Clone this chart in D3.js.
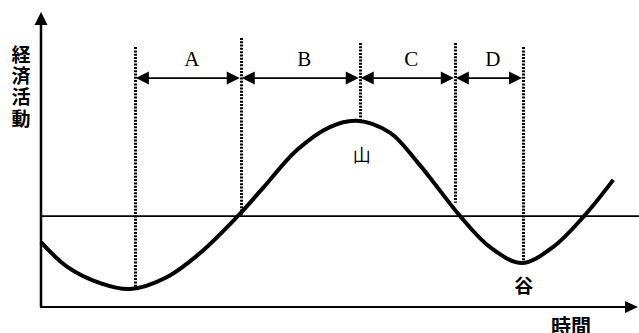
<!DOCTYPE html>
<html lang="ja">

<head>
  <meta charset="UTF-8">
  <script src="https://d3js.org/d3.v7.min.js"></script>
  <style>
    html, body {
      margin: 0px;
      padding: 0px;
      background-color: white;
    }

    svg {
      display: block;
    }

    .jp {
      font-family: "Noto Sans CJK JP", sans-serif;
    }

    .period {
      font-family: "Liberation Serif", "DejaVu Serif", serif;
      font-size: 21px;
    }
  </style>
</head>

<body>
  <svg id="chart" width="639" height="333"></svg>

  <script>
    // business cycle curve (time 0-100, activity 0-100)
    const timeT = [0, 4.4, 9.9, 14.9, 21.1, 26.6, 32.9, 37.1, 42.8, 48.3, 52.8, 58.4, 62.9, 65.6, 70.1, 75.1, 80.4, 85.6, 90.8, 95.7];
    const activity = [22.0, 13.6, 8.1, 6.1, 10.2, 18.3, 30.8, 40.3, 53.2, 61.0, 63.1, 59.0, 49.2, 42.4, 30.8, 20.3, 14.9, 20.3, 30.8, 43.1];

    // trend level
    const trendLevel = 30.8;

    // dotted phase dividers
    const phaseT = [15.7, 33.4, 53.3, 69.2, 80.6];
    const phaseTop = [88.1, 91.2, 89.5, 89.5, 88.1];
    const phaseBottom = [6.1, 30.5, 63.1, 35.3, 14.9];

    // periods between dividers
    const periods = ["A", "B", "C", "D"];
    const arrowLevel = 77.6;
    const labelLevel = 84.0;

    const svg = d3.select("#chart");
    const x = d3.scaleLinear().domain([0, 100]).range([41, 639]);
    const y = d3.scaleLinear().domain([0, 100]).range([307, 12]);

    // triangle head pointing in a direction
    function head(px, py, dir, len, half) {
      if (dir === "left") return `M${px},${py}L${px + len},${py - half}L${px + len},${py + half}Z`;
      if (dir === "right") return `M${px},${py}L${px - len},${py - half}L${px - len},${py + half}Z`;
      return `M${px},${py}L${px - half},${py + len}L${px + half},${py + len}Z`;
    }

    // axes
    svg.append("line")
      .attr("x1", x(0)).attr("x2", x(0))
      .attr("y1", y(0)).attr("y2", y(100) + 10)
      .attr("stroke", "black").attr("stroke-width", 2.5);
    svg.append("path").attr("d", head(x(0), y(100), "up", 13, 6.5)).attr("fill", "black");

    svg.append("line")
      .attr("x1", x(0) - 1).attr("x2", x(100) - 10)
      .attr("y1", y(0)).attr("y2", y(0))
      .attr("stroke", "black").attr("stroke-width", 2);
    svg.append("path").attr("d", head(x(100) - 1, y(0), "right", 13, 6)).attr("fill", "black");

    // trend line
    svg.append("line")
      .attr("x1", x(0)).attr("x2", x(100))
      .attr("y1", y(trendLevel)).attr("y2", y(trendLevel))
      .attr("stroke", "black").attr("stroke-width", 1.7);

    // dotted dividers
    svg.selectAll("line.phase")
      .data(phaseT)
      .join("line")
      .attr("class", "phase")
      .attr("x1", d => Math.round(x(d)) + 0.5).attr("x2", d => Math.round(x(d)) + 0.5)
      .attr("y1", (d, i) => y(phaseTop[i]))
      .attr("y2", (d, i) => y(phaseBottom[i]))
      .attr("stroke", "black")
      .attr("stroke-width", 3)
      .attr("stroke-dasharray", "2,1.3");

    // period arrows
    const spans = periods.map((p, i) => ({ name: p, from: phaseT[i], to: phaseT[i + 1] }));
    const ay = y(arrowLevel);
    spans.forEach(s => {
      const x1 = x(s.from) + 1, x2 = x(s.to) - 1;
      svg.append("line")
        .attr("x1", x1 + 8).attr("x2", x2 - 8)
        .attr("y1", ay).attr("y2", ay)
        .attr("stroke", "black").attr("stroke-width", 1.8);
      svg.append("path").attr("d", head(x1, ay, "left", 13, 6.5)).attr("fill", "black");
      svg.append("path").attr("d", head(x2, ay, "right", 13, 6.5)).attr("fill", "black");
      svg.append("text")
        .attr("class", "period")
        .attr("x", (x(s.from) + x(s.to)) / 2 + 4)
        .attr("y", y(labelLevel))
        .attr("text-anchor", "middle")
        .attr("dominant-baseline", "central")
        .text(s.name);
    });

    // the cycle curve
    const points = timeT.map((t, i) => [t, activity[i]]);
    const line = d3.line()
      .x(d => x(d[0]))
      .y(d => y(d[1]))
      .curve(d3.curveCatmullRom.alpha(0.5));
    svg.append("path")
      .datum(points)
      .attr("d", line)
      .attr("fill", "none")
      .attr("stroke", "black")
      .attr("stroke-width", 4)
      .attr("stroke-linecap", "butt");

    // peak and trough labels
    const peakIdx = d3.maxIndex(activity);
    svg.append("text")
      .attr("class", "jp")
      .attr("x", x(timeT[peakIdx]) + 5)
      .attr("y", y(activity[peakIdx]) + 41)
      .attr("text-anchor", "middle")
      .attr("font-size", 18)
      .text("山");

    const troughIdx = 16;
    svg.append("text")
      .attr("class", "jp")
      .attr("x", x(timeT[troughIdx]) + 2)
      .attr("y", y(activity[troughIdx]) + 30)
      .attr("text-anchor", "middle")
      .attr("font-size", 19)
      .attr("font-weight", "bold")
      .text("谷");

    // axis titles (vertical y title as a single text)
    svg.append("text")
      .attr("class", "jp")
      .attr("x", 21)
      .attr("y", 45)
      .style("writing-mode", "vertical-rl")
      .style("text-orientation", "upright")
      .style("letter-spacing", "2.3px")
      .attr("font-size", 19)
      .attr("font-weight", "bold")
      .text("経済活動");

    svg.append("text")
      .attr("class", "jp")
      .attr("x", 571)
      .attr("y", 334)
      .attr("text-anchor", "middle")
      .attr("font-size", 20)
      .attr("font-weight", "bold")
      .text("時間");
  </script>
</body>

</html>
